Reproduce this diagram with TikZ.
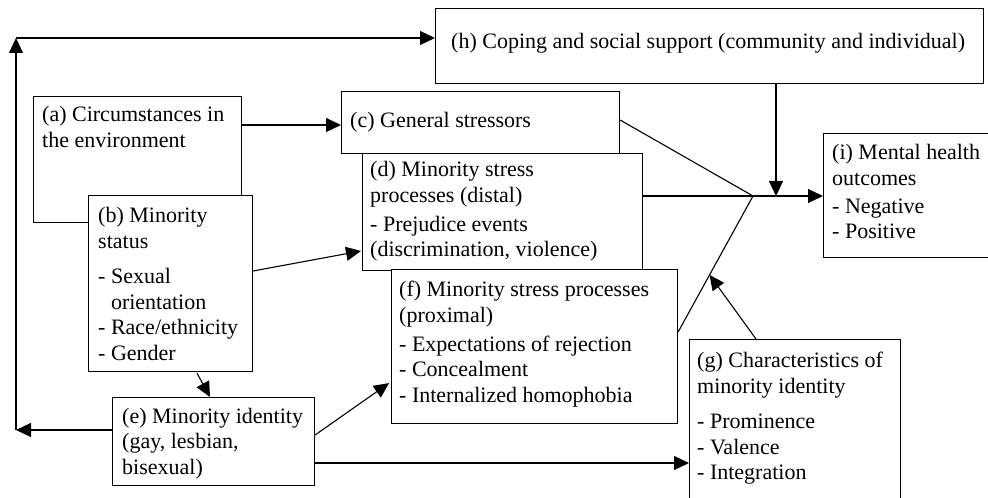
\documentclass[tikz,border=0pt]{standalone}
\usepackage{fontspec}
\setmainfont{Liberation Serif}
\usetikzlibrary{arrows.meta,calc}
\newcommand\stagebox[5]{\node[box,minimum width=#4bp,minimum height=#5bp] (#1) at (#2,#3) {};}
\newcommand\stagetext[4]{\node[lbl] (#1-t) at ($(#1.north west)+(#2,#3)$) {\begin{tabular}[t]{@{}l@{}}#4\end{tabular}};}
\begin{document}
\begin{tikzpicture}[x=1bp,y=-1bp,
  box/.style={draw, line width=1.1bp, fill=white, inner sep=0pt, anchor=north west},
  lbl/.style={inner sep=0pt, anchor=base west, font=\fontsize{22bp}{25.5bp}\selectfont},
  link/.style={line width=1.1bp},
  arr/.style={link, -{Triangle[length=15bp,width=14bp]}},
]
\useasboundingbox (0,0) rectangle (988,498);
\fill[white] (0,0) rectangle (988,498);

% boxes (later ones lie on top of earlier ones)
\stagebox{a}{33}{96}{208}{126}
\stagebox{b}{88}{195}{164}{176}
\stagebox{d}{362}{153}{280}{117}
\stagebox{c}{341}{91}{278}{62}
\stagebox{f}{391}{269}{286}{154}
\stagebox{e}{112}{397}{202}{88}
\stagebox{g}{689}{339}{211}{175}
\stagebox{h}{435}{8}{548}{75}
\stagebox{i}{823}{133}{175}{124}

% box texts
\stagetext{a}{9}{26}{(a) Circumstances in\\ the environment}
\stagetext{b}{10}{28}{(b) Minority\\ status\\[10bp] - Sexual\\ \phantom{- }orientation\\ - Race/ethnicity\\ - Gender}
\stagetext{c}{9}{37}{(c) General stressors}
\stagetext{d}{8}{24}{(d) Minority stress\\ processes (distal)\\[3.5bp] - Prejudice events\\ (discrimination, violence)}
\stagetext{f}{8}{28}{(f) Minority stress processes\\ (proximal)\\[3.5bp] - Expectations of rejection\\ - Concealment\\ - Internalized homophobia}
\stagetext{e}{10}{26}{(e) Minority identity\\ (gay, lesbian,\\ bisexual)}
\stagetext{g}{8}{29}{(g) Characteristics of\\ minority identity\\[9.5bp] - Prominence\\ - Valence\\ - Integration}
\stagetext{h}{16}{41}{(h) Coping and social support (community and individual)}
\stagetext{i}{9}{27}{(i) Mental health\\ outcomes\\[2.5bp] - Negative\\ - Positive}

% feedback loop between minority identity and coping
\coordinate (loopTop) at (16,38);
\coordinate (loopBot) at (16,430);
\draw[arr] (e.west |- loopBot) -- (loopBot);
\draw[arr] (loopBot) -- (loopTop);
\draw[arr] (loopTop) -- (loopTop -| h.west);

% left-hand paths
\draw[arr] ($(a.north east)+(0,29)$) -- ($(c.north west)+(0,34)$);
\draw[arr] ($(b.north east)+(0,76)$) -- ($(d.north west)+(-1,98)$);
\draw[arr] ($(b.south west)+(109,1)$) -- ($(e.north west)+(98,0)$);
\draw[arr] ($(e.north east)+(0,38)$) -- ($(f.south west)+(-2,-41)$);
\draw[arr] ($(e.north east)+(0,66)$) -- ($(g.north west)+(0,124)$);

% convergence on mental health outcomes
\coordinate (J) at (753,196);
\coordinate (hx) at (776,196);
\coordinate (fJ) at ($(f.north east)+(0,63)$);
\draw[link] ($(c.north east)+(0,29)$) -- (J);
\draw[link] (d.east |- J) -- (J);
\draw[link] (fJ) -- (J);
\draw[arr] (J) -- (i.west |- J);
\draw[arr] (h.south -| hx) -- (hx);
\draw[arr] ($(g.north west)+(67,0)$) -- ($(fJ)!0.42!(J)$);
\end{tikzpicture}
\end{document}
